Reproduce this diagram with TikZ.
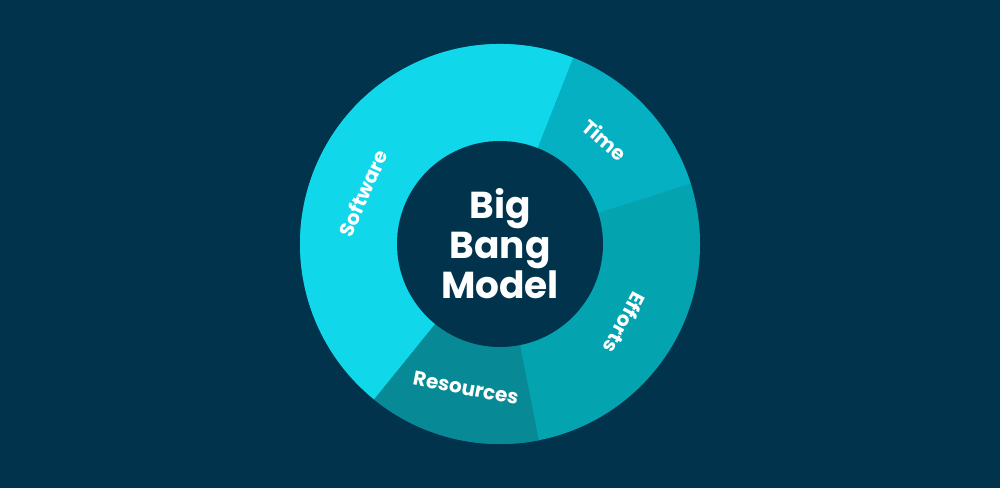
\documentclass[tikz,border=0pt]{standalone}
\usepackage{fontspec}
\setmainfont{Poppins}
\definecolor{bgnavy}{HTML}{01334D}
\definecolor{softcyan}{HTML}{10D8EA}
\definecolor{timeteal}{HTML}{04B0C2}
\definecolor{effortteal}{HTML}{03A4B0}
\definecolor{resteal}{HTML}{088A96}
\begin{document}
\begin{tikzpicture}[x=1pt,y=1pt,
  seglabel/.style={text=white, inner sep=0pt, font=\bfseries\fontsize{20}{20}\selectfont},
  title/.style={text=white, inner sep=0pt, align=center, font=\bfseries\fontsize{37.5}{40}\selectfont}]
\fill[bgnavy] (0,0) rectangle (1000,488);
\coordinate (c) at (500,244);
% ring: outer radius 200, hole 103
\fill[effortteal] (c) circle[radius=200];
\fill[softcyan] (c) -- ++(68.5:200) arc[start angle=68.5, end angle=231, radius=200] -- cycle;
\fill[timeteal] (c) -- ++(17.6:200) arc[start angle=17.6, end angle=68.5, radius=200] -- cycle;
\fill[resteal] (c) -- ++(-129:200) arc[start angle=-129, end angle=-78.8, radius=200] -- cycle;
\fill[bgnavy] (c) circle[radius=103];
\node [title] (model) at (c) {Big\\Bang\\Model};
\node [seglabel, rotate=66] (software) at (363,295) {Software};
\node [seglabel, rotate=-41] (time) at (605,348) {Time};
\node [seglabel, rotate=-118] (efforts) at (625,165) {Efforts};
\node [seglabel, rotate=-11] (resources) at (466,100) {Resources};
\end{tikzpicture}
\end{document}
